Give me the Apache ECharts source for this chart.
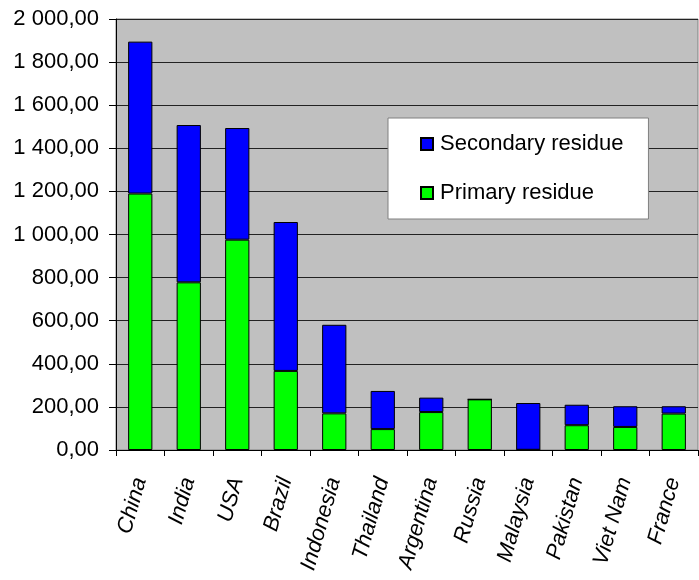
<!DOCTYPE html>
<html>
<head>
<meta charset="utf-8">
<script src="https://cdn.jsdelivr.net/npm/echarts@6/dist/echarts.min.js"></script>
<style>html,body{margin:0;padding:0;background:#fff;}#c{width:699px;height:580px;}</style>
</head>
<body>
<div id="c"></div>
<script>
const categories = ['China','India','USA','Brazil','Indonesia','Thailand','Argentina','Russia','Malaysia','Pakistan','Viet Nam','France'];
const primaryResidue = [1190, 778, 976, 367, 170, 97, 176, 235, 1, 115, 107, 169];
const secondaryResidue = [705, 730, 518, 691, 411, 177, 67, 0, 217, 95, 96, 34];
const yMin = 0, yMax = 2000, yStep = 200;

function fmt(v) {
  const s = v.toFixed(2).split('.');
  const int = s[0].replace(/\B(?=(\d{3})+(?!\d))/g, ' ');
  return int + ',' + s[1];
}
const font = '"Liberation Sans", Arial, sans-serif';
const chart = echarts.init(document.getElementById('c'));
chart.setOption({
  animation: false,
  textStyle: { fontFamily: font },
  grid: { left: 116, right: 1, top: 19, bottom: 130, show: true, backgroundColor: '#C0C0C0', borderColor: '#808080', borderWidth: 1, containLabel: false },
  legend: {
    orient: 'vertical', left: 388, top: 118,
    data: ['Secondary residue', 'Primary residue'],
    backgroundColor: '#fff', borderColor: '#808080', borderWidth: 1,
    padding: [15, 25, 15, 32], itemGap: 27, itemWidth: 12, itemHeight: 12,
    icon: 'rect',
    textStyle: { fontSize: 22, color: '#000', fontFamily: font, padding: [0, 0, 0, 2] }
  },
  xAxis: {
    type: 'category', data: categories,
    axisLine: { lineStyle: { color: '#000', width: 1 } },
    axisTick: { show: true, length: 6, alignWithLabel: false, lineStyle: { color: '#000' } },
    axisLabel: { rotate: 74, fontSize: 22, color: '#000', margin: 28, fontStyle: 'italic', interval: 0, fontFamily: font }
  },
  yAxis: {
    type: 'value', min: yMin, max: yMax, interval: yStep,
    axisLine: { show: true, lineStyle: { color: '#000', width: 1 } },
    axisTick: { show: true, length: 7, lineStyle: { color: '#000' } },
    splitLine: { lineStyle: { color: '#222', width: 1 } },
    axisLabel: { fontSize: 22, color: '#000', margin: 17, formatter: fmt, fontFamily: font }
  },
  series: [
    { name: 'Primary residue', type: 'bar', stack: 'a', data: primaryResidue, barWidth: '50%',
      itemStyle: { color: '#00FF00', borderColor: '#000', borderWidth: 1 } },
    { name: 'Secondary residue', type: 'bar', stack: 'a', data: secondaryResidue, barWidth: '50%',
      itemStyle: { color: '#0000FF', borderColor: '#000', borderWidth: 1 } }
  ]
});
</script>
</body>
</html>
